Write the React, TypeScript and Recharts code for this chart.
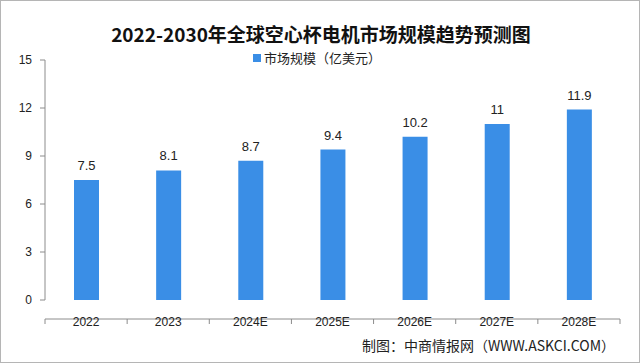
import { Bar, BarChart, LabelList, XAxis, YAxis } from "recharts";

const years = ["2022", "2023", "2024E", "2025E", "2026E", "2027E", "2028E"];
const marketSize = [7.5, 8.1, 8.7, 9.4, 10.2, 11, 11.9];
const yTicks = [0, 3, 6, 9, 12, 15];
const boundaryTicks = [0, 1, 2, 3, 4, 5, 6, 7];

const chartData = years.map((year, i) => ({ year, value: marketSize[i], idx: i + 0.5 }));

const BLUE = "#3a8ee6";
const AXIS = "#8c8c8c";

export default function App() {
  return (
    <div
      style={{
        position: "absolute",
        left: 0,
        top: 0,
        width: 640,
        height: 363,
        boxSizing: "border-box",
        border: "1px solid #b5b5b5",
        background: "#fff",
        fontFamily: "'Noto Sans CJK SC', sans-serif",
      }}
    >
      <div
        style={{
          position: "absolute",
          top: 20,
          left: 0,
          width: 640,
          textAlign: "center",
          fontSize: 19,
          fontWeight: 700,
          color: "#111",
          lineHeight: "26px",
        }}
      >
        2022-2030年全球空心杯电机市场规模趋势预测图
      </div>
      <div
        style={{
          position: "absolute",
          top: 48,
          left: 252,
          fontSize: 13,
          color: "#222",
          lineHeight: "18px",
          display: "flex",
          alignItems: "center",
        }}
      >
        <span style={{ display: "inline-block", width: 8, height: 8, background: BLUE, marginRight: 3 }} />
        市场规模（亿美元）
      </div>
      <div style={{ position: "absolute", left: -1, top: -1 }}>
        <BarChart
          width={640}
          height={363}
          data={chartData}
          margin={{ top: 60, right: 20, bottom: 43, left: 0 }}
        >
          {/* boundary ticks between categories, plus the axis line */}
          <XAxis
            xAxisId="grid"
            dataKey="idx"
            type="number"
            domain={[0, 7]}
            ticks={boundaryTicks}
            height={1}
            axisLine={{ stroke: AXIS }}
            tickLine={{ stroke: AXIS }}
            tickSize={5}
            tick={() => <g />}
          />
          <XAxis
            xAxisId="cat"
            dataKey="year"
            height={19}
            axisLine={false}
            tickLine={false}
            tick={{ fill: "#222", fontSize: 12, fontFamily: "'Liberation Sans', sans-serif" }}
            tickMargin={11}
          />
          <YAxis
            domain={[0, 15]}
            ticks={yTicks}
            width={45}
            axisLine={{ stroke: AXIS }}
            tickLine={{ stroke: AXIS }}
            tickSize={5}
            tick={{ fill: "#222", fontSize: 12, fontFamily: "'Liberation Sans', sans-serif" }}
            tickMargin={8}
          />
          <Bar xAxisId="cat" dataKey="value" fill={BLUE} barSize={25} isAnimationActive={false}>
            <LabelList
              dataKey="value"
              position="top"
              offset={10}
              fill="#222"
              fontSize={13}
              fontFamily="'Liberation Sans', sans-serif"
            />
          </Bar>
        </BarChart>
      </div>
      <div
        style={{
          position: "absolute",
          top: 334,
          right: 24,
          fontSize: 14,
          color: "#222",
          lineHeight: "20px",
        }}
      >
        制图：中商情报网（WWW.ASKCI.COM）
      </div>
    </div>
  );
}
